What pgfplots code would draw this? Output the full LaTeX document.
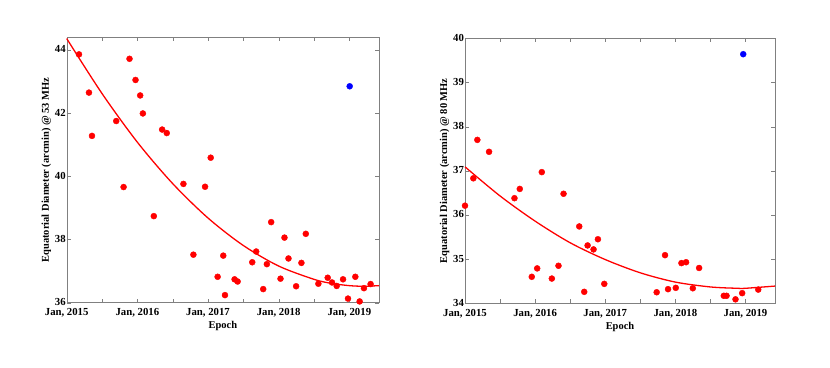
\documentclass[border=0pt]{standalone}
\usepackage{fontspec}
\setmainfont{Liberation Serif}
\usepackage{pgfplots}
\pgfplotsset{compat=1.18}

\pgfplotsset{
  epochax/.style={
    scale only axis,
    anchor=south west,
    xmin=2015, xmax=2019.42,
    xtick={2015,2015.5,2016,2016.5,2017,2017.5,2018,2018.5,2019},
    xticklabels={{Jan, 2015},,{Jan, 2016},,{Jan, 2017},,{Jan, 2018},,{Jan, 2019}},
    /pgf/number format/assume math mode=true,
    tick label style={font=\fontsize{10.8}{12}\selectfont\bfseries, black},
    label style={font=\fontsize{10.5}{12}\selectfont\bfseries},
    xlabel={Epoch},
    xlabel style={yshift=3pt},
    ylabel style={yshift=-3pt},
    axis line style={gray},
    major tick style={gray},
    major tick length=4bp,
    tick align=inside,
    xticklabel style={yshift=-2.5pt},
    yticklabel style={xshift=2.5pt, yshift=0.5pt},
    clip=false,
  },
  pts/.style={only marks, mark=*, mark size=3bp, red, mark options={fill=red, draw=red}},
  blu/.style={only marks, mark=*, mark size=3bp, blue, mark options={fill=blue, draw=blue}},
  fit/.style={red, line width=1.3pt, smooth, no marks},
}

\begin{document}
\begin{tikzpicture}
\useasboundingbox (0,0) rectangle (830bp,368bp);

% 53 MHz
\begin{axis}[epochax,
  at={(66.7bp,65.3bp)}, width=312.3bp, height=265.4bp,
  ymin=36, ymax=44.4, ytick={36,38,40,42,44},
  ylabel={Equatorial Diameter (arcmin) @ 53 MHz},
]
\addplot[fit] coordinates {
(2015,44.36)(2015.5,42.62)(2016,41.08)(2016.5,39.77)(2017,38.68)(2017.5,37.81)
(2018,37.16)(2018.5,36.74)(2018.75,36.61)(2019,36.54)(2019.2,36.52)(2019.42,36.54)};
\addplot[pts] coordinates {
(2015.174,43.86)(2015.315,42.65)(2015.358,41.28)(2015.701,41.75)(2015.805,39.66)
(2015.889,43.72)(2015.974,43.05)(2016.040,42.56)(2016.078,41.99)(2016.233,38.74)
(2016.351,41.48)(2016.416,41.37)(2016.652,39.76)(2016.793,37.52)(2016.958,39.67)
(2017.038,40.59)(2017.136,36.82)(2017.216,37.49)(2017.240,36.24)(2017.376,36.74)
(2017.419,36.67)(2017.626,37.28)(2017.682,37.62)(2017.781,36.43)(2017.833,37.22)
(2017.894,38.55)(2018.026,36.76)(2018.082,38.06)(2018.139,37.40)(2018.247,36.52)
(2018.322,37.26)(2018.384,38.18)(2018.562,36.60)(2018.694,36.79)(2018.755,36.64)
(2018.821,36.53)(2018.911,36.74)(2018.981,36.13)(2019.085,36.82)(2019.146,36.04)
(2019.207,36.46)(2019.301,36.59)};
\addplot[blu] coordinates {(2019.005,42.85)};
\end{axis}

% 80 MHz
\begin{axis}[epochax,
  at={(465bp,64.7bp)}, width=310bp, height=265bp,
  ymin=34, ymax=40, ytick={34,35,36,37,38,39,40},
  ylabel={Equatorial Diameter (arcmin) @ 80 MHz},
]
\addplot[fit] coordinates {
(2015,37.09)(2015.5,36.43)(2016,35.86)(2016.5,35.37)(2017,34.99)(2017.5,34.69)
(2018,34.48)(2018.5,34.37)(2018.88,34.34)(2019,34.34)(2019.42,34.39)};
\addplot[pts] coordinates {
(2015.000,36.21)(2015.119,36.83)(2015.176,37.70)(2015.343,37.43)(2015.705,36.38)
(2015.781,36.59)(2015.952,34.60)(2016.029,34.79)(2016.095,36.97)(2016.238,34.56)
(2016.333,34.85)(2016.405,36.48)(2016.629,35.74)(2016.700,34.26)(2016.748,35.31)
(2016.833,35.22)(2016.895,35.45)(2016.986,34.44)(2017.733,34.25)(2017.852,35.09)
(2017.895,34.32)(2018.005,34.35)(2018.086,34.91)(2018.152,34.93)(2018.248,34.34)
(2018.338,34.80)(2018.690,34.17)(2018.729,34.17)(2018.857,34.09)(2018.952,34.23)
(2019.181,34.31)};
\addplot[blu] coordinates {(2018.967,39.64)};
\end{axis}
\end{tikzpicture}
\end{document}
